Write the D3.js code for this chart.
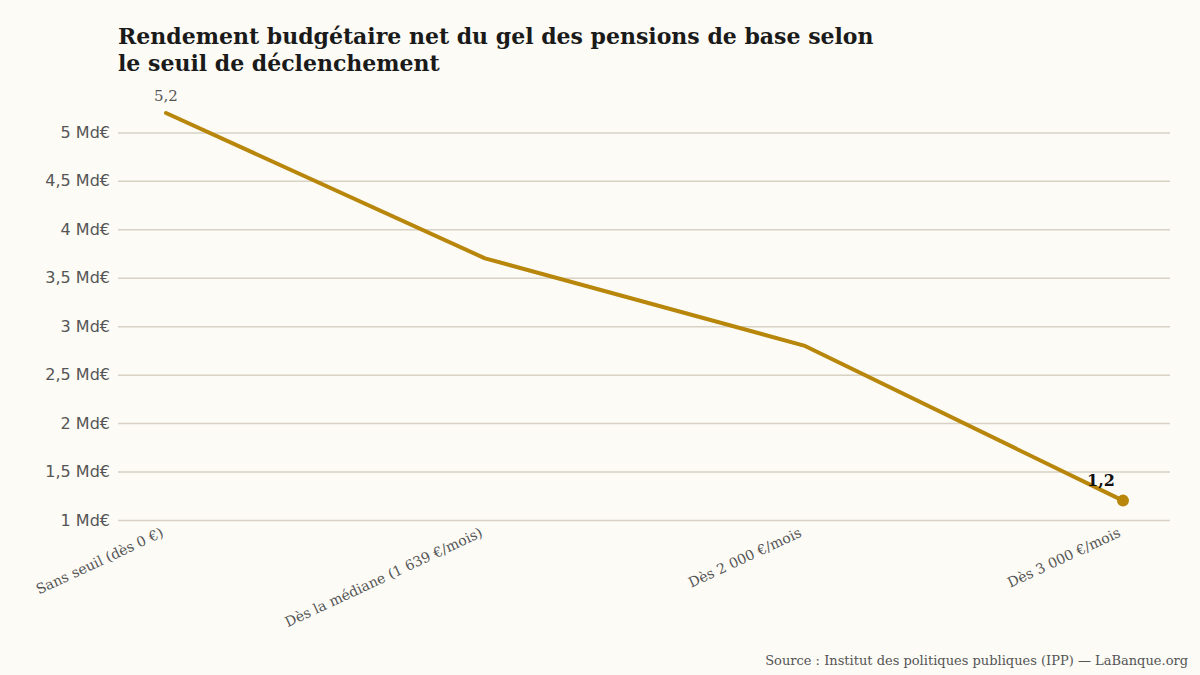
<!DOCTYPE html>
<html>
<head>
<meta charset="utf-8">
<script src="https://cdn.jsdelivr.net/npm/d3@7"></script>
<style>
  body { margin: 0; background: #fcfbf5; }
  svg { display: block; }
</style>
</head>
<body>
<div id="chart"></div>
<script>
// Thresholds and the net budget yield of the freeze (billions of euros)
var thresholds = [
  "Sans seuil (dès 0 €)",
  "Dès la médiane (1 639 €/mois)",
  "Dès 2 000 €/mois",
  "Dès 3 000 €/mois"
];
var yieldValues = [5.2, 3.7, 2.8, 1.2];
var yTicks = [1, 1.5, 2, 2.5, 3, 3.5, 4, 4.5, 5];

var titleLines = [
  "Rendement budgétaire net du gel des pensions de base selon",
  "le seuil de déclenchement"
];
var sourceText = "Source : Institut des politiques publiques (IPP) — LaBanque.org";

var width = 1200, height = 675;
var margin = { top: 113, right: 30, bottom: 155, left: 118 };
var serif = "'DejaVu Serif', Georgia, serif";
var sans = "'DejaVu Sans', Verdana, sans-serif";
var lineColor = "#b8860b";

var svg = d3.select("#chart").append("svg")
  .attr("width", width)
  .attr("height", height)
  .style("background", "#fcfbf5");

// x is a point scale: first and last thresholds sit a bit inside the grid
var x = d3.scalePoint()
  .domain(thresholds)
  .range([166, 1123]);

var y = d3.scaleLinear()
  .domain([1, 5.2])
  .range([height - margin.bottom, margin.top]);

// Horizontal grid lines with the y labels on the left:
var yAxis = svg.append("g")
  .attr("transform", "translate(" + margin.left + ",0)")
  .call(d3.axisLeft(y)
    .tickValues(yTicks)
    .tickSize(-(width - margin.left - margin.right))
    .tickPadding(8)
    .tickFormat(function(d) { return String(d).replace(".", ",") + " Md€"; }));

yAxis.select(".domain").remove();
yAxis.selectAll(".tick line")
  .attr("stroke", "#d8d2c4")
  .attr("stroke-width", 1.5);
yAxis.selectAll(".tick text")
  .attr("font-family", sans)
  .attr("font-size", 16)
  .attr("fill", "#555");

// Category labels, tilted, ending right under each point:
var xAxis = svg.append("g")
  .attr("transform", "translate(0," + (height - margin.bottom) + ")")
  .call(d3.axisBottom(x).tickSize(0).tickPadding(0));

xAxis.select(".domain").remove();
xAxis.selectAll(".tick text")
  .attr("font-family", serif)
  .attr("font-size", 14)
  .attr("fill", "#555")
  .attr("text-anchor", "end")
  .attr("dy", null)
  .attr("transform", "translate(-2,16) rotate(-25)");

// The line itself:
var line = d3.line()
  .x(function(d, i) { return x(thresholds[i]); })
  .y(function(d) { return y(d); });

svg.append("path")
  .datum(yieldValues)
  .attr("d", line)
  .attr("fill", "none")
  .attr("stroke", lineColor)
  .attr("stroke-width", 4)
  .attr("stroke-linejoin", "round")
  .attr("stroke-linecap", "round");

// Dot on the last point only:
var last = yieldValues.length - 1;
svg.append("circle")
  .attr("cx", x(thresholds[last]))
  .attr("cy", y(yieldValues[last]))
  .attr("r", 6)
  .attr("fill", lineColor);

// Value labels on first and last points:
svg.append("text")
  .attr("x", x(thresholds[0]))
  .attr("y", y(yieldValues[0]) - 12)
  .attr("text-anchor", "middle")
  .attr("font-family", serif)
  .attr("font-size", 15)
  .attr("fill", "#555")
  .text(String(yieldValues[0]).replace(".", ","));

svg.append("text")
  .attr("x", x(thresholds[last]) - 22)
  .attr("y", y(yieldValues[last]) - 15)
  .attr("text-anchor", "middle")
  .attr("font-family", serif)
  .attr("font-weight", "bold")
  .attr("font-size", 16)
  .attr("fill", "#111")
  .text(String(yieldValues[last]).replace(".", ","));

// Title:
svg.append("text")
  .attr("x", margin.left)
  .attr("y", 44)
  .attr("font-family", serif)
  .attr("font-weight", "bold")
  .attr("font-size", 22)
  .attr("fill", "#1a1a1a")
  .selectAll("tspan")
  .data(titleLines)
  .enter().append("tspan")
  .attr("x", margin.left)
  .attr("dy", function(d, i) { return i ? 27 : 0; })
  .text(function(d) { return d; });

// Source:
svg.append("text")
  .attr("x", 1188)
  .attr("y", 665)
  .attr("text-anchor", "end")
  .attr("font-family", serif)
  .attr("font-size", 13)
  .attr("fill", "#555")
  .text(sourceText);
</script>
</body>
</html>
